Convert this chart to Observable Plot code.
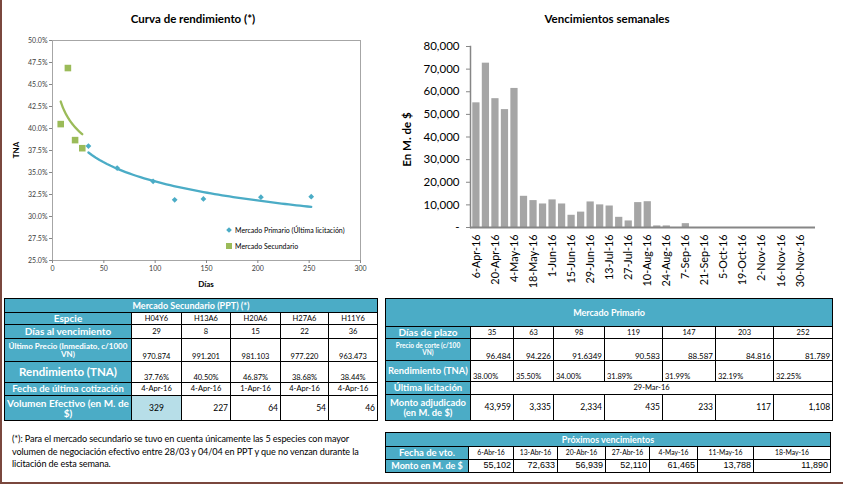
<!DOCTYPE html>
<html><head><meta charset="utf-8">
<script src="https://cdn.jsdelivr.net/npm/d3@7"></script>
<script src="https://cdn.jsdelivr.net/npm/@observablehq/plot@0.6"></script>
<style>
html,body{margin:0;padding:0;background:#fff;}
body{width:843px;height:484px;position:relative;overflow:hidden;font-family:Lato,"Open Sans",sans-serif;color:#000;}
.abs{position:absolute;}
.border-l{left:0;top:0;width:2px;height:484px;background:#7a473d;}
.border-b{left:0;top:482px;width:843px;height:2px;background:#7a473d;}
.ctitle{font-weight:bold;font-size:11.5px;text-align:center;color:#000;}
.axt{font-weight:bold;font-size:8px;color:#000;white-space:nowrap;}
.leg{font-size:7px;color:#000;white-space:nowrap;display:flex;align-items:center;}
.sym-d{display:inline-block;width:4px;height:4px;background:#4bacc6;transform:rotate(45deg);margin-right:4px;}
.sym-s{display:inline-block;width:6px;height:6px;background:#9bbb59;margin-right:3px;}
table{border-collapse:collapse;table-layout:fixed;position:absolute;}
td{border:1px solid #000;padding:0 2px;overflow:hidden;white-space:nowrap;font-size:7.5px;line-height:1.05;}
td.lab{background:#4bacc6;color:#fff;font-weight:bold;text-align:center;padding:0 1px;}
td.hd{background:#4bacc6;color:#fff;font-weight:bold;text-align:center;font-size:9px;}
td.c{text-align:center;}
td.r{text-align:right;}
td.l{text-align:left;}
td.b{vertical-align:bottom;}
.note{font-size:9.1px;line-height:12.5px;color:#000;white-space:nowrap;letter-spacing:-0.1px;}
</style></head><body>
<div class="abs border-l"></div>
<div class="abs border-b"></div>

<div class="abs ctitle" style="left:0;top:12px;width:386px;">Curva de rendimiento (*)</div>
<div class="abs ctitle" style="left:507px;top:12px;width:200px;">Vencimientos semanales</div>
<div id="chartL" class="abs" style="left:0;top:0;"></div>
<div id="chartR" class="abs" style="left:380px;top:0;"></div>
<div class="abs axt" style="left:4px;top:145px;width:24px;text-align:center;transform:rotate(-90deg);">TNA</div>
<div class="abs axt" style="left:186px;top:279px;width:40px;text-align:center;">Días</div>
<div class="abs axt" style="left:366px;top:133px;width:80px;text-align:center;font-size:11.5px;transform:rotate(-90deg);">En M. de $</div>
<div class="abs leg" style="left:227px;top:226px;"><span class="sym-d"></span><span id="legP"></span></div>
<div class="abs leg" style="left:226px;top:242px;"><span class="sym-s"></span><span id="legS"></span></div>

<table id="tSec" style="left:4px;top:298px;width:373px;"></table>
<table id="tPrim" style="left:385px;top:298px;width:447px;"></table>
<table id="tProx" style="left:385px;top:432px;width:445px;"></table>
<div class="abs note" style="left:12px;top:433px;" id="nota"></div>

<script>
// ---------- DATA ----------
const serieNombres = ["Mercado Primario (Última licitación)", "Mercado Secundario"];

// Mercado primario (última licitación)
const primDias = [35, 63, 98, 119, 147, 203, 252];
const primPrecio = ["96.484", "94.226", "91.6349", "90.583", "88.587", "84.816", "81.789"];
const primTNA = [38.00, 35.50, 34.00, 31.89, 31.99, 32.19, 32.25];
const primFechaLicitacion = "29-Mar-16";
const primMonto = ["43,959", "3,335", "2,334", "435", "233", "117", "1,108"];

// Mercado secundario (PPT)
const secEspecie = ["H04Y6", "H13A6", "H20A6", "H27A6", "H11Y6"];
const secDias = [29, 8, 15, 22, 36];
const secPrecio = ["970.874", "991.201", "981.103", "977.220", "963.473"];
const secTNA = [37.76, 40.50, 46.87, 38.68, 38.44];
const secFecha = ["4-Apr-16", "4-Apr-16", "1-Apr-16", "4-Apr-16", "4-Apr-16"];
const secVolumen = ["329", "227", "64", "54", "46"];
const secEnGrafico = [true, true, true, true, false];

// Vencimientos semanales (En M. de $)
const semanas = ["6-Apr-16","13-Apr-16","20-Apr-16","27-Apr-16","4-May-16","11-May-16","18-May-16","25-May-16",
  "1-Jun-16","8-Jun-16","15-Jun-16","22-Jun-16","29-Jun-16","6-Jul-16","13-Jul-16","20-Jul-16","27-Jul-16",
  "3-Aug-16","10-Aug-16","17-Aug-16","24-Aug-16","31-Aug-16","7-Sep-16","14-Sep-16","21-Sep-16","28-Sep-16",
  "5-Oct-16","12-Oct-16","19-Oct-16","26-Oct-16","2-Nov-16","9-Nov-16","16-Nov-16","23-Nov-16","30-Nov-16","7-Dec-16"];
const montoSemanal = [55102, 72633, 56939, 52110, 61465, 13788, 11890, 10400,
  12200, 10400, 5400, 6800, 11300, 10000, 9500, 4500, 2900,
  11000, 11400, 700, 700, 0, 1700, 0, 0, 0,
  0, 0, 0, 0, 0, 0, 0, 0, 0, 0];

// Próximos vencimientos
const proxFecha = ["6-Abr-16", "13-Abr-16", "20-Abr-16", "27-Abr-16", "4-May-16", "11-May-16", "18-May-16"];
const proxMonto = ["55,102", "72,633", "56,939", "52,110", "61,465", "13,788", "11,890"];

const notaLineas = [
  "(*): Para el mercado secundario se tuvo en cuenta únicamente las 5 especies con mayor",
  "volumen de negociación efectivo entre 28/03 y 04/04 en PPT y que no venzan durante la",
  "licitación de esta semana."
];

// ---------- LEFT CHART ----------
const colP = "#4bacc6", colS = "#9bbb59";
const prim = primDias.map((d, i) => ({dias: d, tna: primTNA[i]}));
const sec = secDias.map((d, i) => ({dias: d, tna: secTNA[i], on: secEnGrafico[i]})).filter(d => d.on);

function logFit(data) {
  const lx = data.map(d => Math.log(d.dias)), ys = data.map(d => d.tna);
  const mx = d3.mean(lx), my = d3.mean(ys);
  const b = d3.sum(lx, (v, i) => (v - mx) * (ys[i] - my)) / d3.sum(lx, v => (v - mx) ** 2);
  const a = my - b * mx;
  const [x0, x1] = d3.extent(data, d => d.dias);
  return d3.range(0, 61).map(k => { const x = x0 + (x1 - x0) * k / 60; return {dias: x, tna: a + b * Math.log(x)}; });
}
const trendP = logFit(prim), trendS = logFit(sec);

const diamond = {draw(ctx, size) { const s = Math.sqrt(size / 2); ctx.moveTo(0, -s); ctx.lineTo(s, 0); ctx.lineTo(0, s); ctx.lineTo(-s, 0); ctx.closePath(); }};

const left = Plot.plot({
  width: 375, height: 290, marginLeft: 52, marginRight: 15, marginTop: 40, marginBottom: 30,
  style: {fontFamily: "Lato, sans-serif", fontSize: "7px", color: "#404040", background: "transparent"},
  x: {domain: [0, 300], label: null},
  y: {domain: [25, 50], label: null},
  marks: [
    Plot.frame({stroke: "#a6a6a6"}),
    Plot.axisX({ticks: d3.range(0, 301, 50), tickSize: 3, tickPadding: 3, stroke: "#868686", label: null}),
    Plot.axisY({ticks: d3.range(25, 50.01, 2.5), tickFormat: d => d.toFixed(1) + "%", tickSize: 3, tickPadding: 2, stroke: "#868686", label: null}),
    Plot.line(trendS, {x: "dias", y: "tna", stroke: colS, strokeWidth: 2.3}),
    Plot.line(trendP, {x: "dias", y: "tna", stroke: colP, strokeWidth: 2.3}),
    Plot.dot(sec, {x: "dias", y: "tna", symbol: "square", r: 3.7, fill: colS}),
    Plot.dot(prim, {x: "dias", y: "tna", symbol: diamond, r: 2.3, fill: colP})
  ]
});
document.getElementById("chartL").appendChild(left);
document.getElementById("legP").textContent = serieNombres[0];
document.getElementById("legS").textContent = serieNombres[1];

// ---------- RIGHT CHART ----------
const semanal = semanas.map((s, i) => ({semana: s, monto: montoSemanal[i]}));
const right = Plot.plot({
  width: 463, height: 296, marginLeft: 90, marginRight: 28, marginTop: 46, marginBottom: 69,
  style: {fontFamily: "Lato, sans-serif", fontSize: "11.5px", color: "#000", background: "transparent"},
  x: {domain: semanas, padding: 0.24, round: false, label: null},
  y: {domain: [0, 80000], label: null},
  marks: [
    Plot.barY(semanal, {x: "semana", y: "monto", fill: "#a5a5a5"}),
    Plot.frame({anchor: "left", stroke: "#868686", strokeWidth: 1.5}),
    Plot.ruleY([0], {stroke: "#868686", strokeWidth: 2}),
    Plot.axisY({ticks: d3.range(0, 80001, 10000), tickFormat: d => d === 0 ? "-" : d3.format(",")(d), tickSize: 4, tickPadding: 7, stroke: "#868686", label: null}),
    Plot.axisX({ticks: semanas.filter((d, i) => i % 2 === 0), tickRotate: -90, tickSize: 0, tickPadding: 7, fontSize: 10.8, label: null})
  ]
});
document.getElementById("chartR").appendChild(right);

// ---------- TABLES ----------
function colgroup(ws) { return "<colgroup>" + ws.map(w => `<col style="width:${w}px">`).join("") + "</colgroup>"; }
function row(h, cells) { return `<tr style="height:${h}px">${cells}</tr>`; }

// Secundario
let ts = colgroup([127, 50, 49, 50, 48, 49]);
ts += row(14, `<td class="hd" colspan="6">Mercado Secundario (PPT) (*)</td>`);
ts += row(12, `<td class="lab" style="font-size:10px">Espcie</td>` + secEspecie.map(v => `<td class="c">${v}</td>`).join(""));
ts += row(14, `<td class="lab" style="font-size:10px">Días al vencimiento</td>` + secDias.map(v => `<td class="c">${v}</td>`).join(""));
ts += row(23, `<td class="lab" style="font-size:8px">Último Precio (Inmediato, c/1000<br>VN)</td>` + secPrecio.map(v => `<td class="c b">${v}</td>`).join(""));
ts += row(21, `<td class="lab" style="font-size:11.5px">Rendimiento (TNA)</td>` + secTNA.map(v => `<td class="c b">${v.toFixed(2)}%</td>`).join(""));
ts += row(13, `<td class="lab" style="font-size:9.5px">Fecha de última cotización</td>` + secFecha.map(v => `<td class="c">${v}</td>`).join(""));
ts += row(25, `<td class="lab" style="font-size:10px">Volumen Efectivo (en M. de<br>$)</td>` + secVolumen.map((v, i) => i === 0 ? `<td class="c" style="background:#b7dee8;font-size:8.5px">${v}</td>` : `<td class="r" style="font-size:8.5px">${v}</td>`).join(""));
document.getElementById("tSec").innerHTML = ts;

// Primario
let tp = colgroup([85, 43, 40, 51, 58, 53, 58, 59]);
tp += row(28, `<td class="hd" colspan="8">Mercado Primario</td>`);
tp += row(12, `<td class="lab" style="font-size:10px">Días de plazo</td>` + primDias.map(v => `<td class="c">${v}</td>`).join(""));
tp += row(22, `<td class="lab" style="font-size:6.5px">Precio de corte (c/100<br>VN)</td>` + primPrecio.map(v => `<td class="r b" style="font-size:8px">${v}</td>`).join(""));
tp += row(21, `<td class="lab" style="font-size:9.4px">Rendimiento (TNA)</td>` + primTNA.map(v => `<td class="l b">${v.toFixed(2)}%</td>`).join(""));
tp += row(13, `<td class="lab" style="font-size:9.5px">Última licitación</td><td class="c" colspan="7">${primFechaLicitacion}</td>`);
tp += row(26, `<td class="lab" style="font-size:9.4px">Monto adjudicado<br>(en M. de $)</td>` + primMonto.map(v => `<td class="r" style="font-size:8.5px">${v}</td>`).join(""));
document.getElementById("tPrim").innerHTML = tp;

// Próximos vencimientos
let tv = colgroup([83, 45, 44, 48, 44, 48, 56, 77]);
tv += row(14, `<td class="hd" colspan="8">Próximos vencimientos</td>`);
tv += row(13, `<td class="lab" style="font-size:9.5px">Fecha de vto.</td>` + proxFecha.map(v => `<td class="c" style="font-size:6.8px">${v}</td>`).join(""));
tv += row(13, `<td class="lab" style="font-size:9px">Monto en M. de $</td>` + proxMonto.map(v => `<td class="r" style="font-family:'Liberation Sans Narrow','Liberation Sans',sans-serif;font-size:9px">${v}</td>`).join(""));
document.getElementById("tProx").innerHTML = tv;

document.getElementById("nota").innerHTML = notaLineas.map(l => l.replace(/&/g, "&amp;")).join("<br>");
</script>
</body></html>
